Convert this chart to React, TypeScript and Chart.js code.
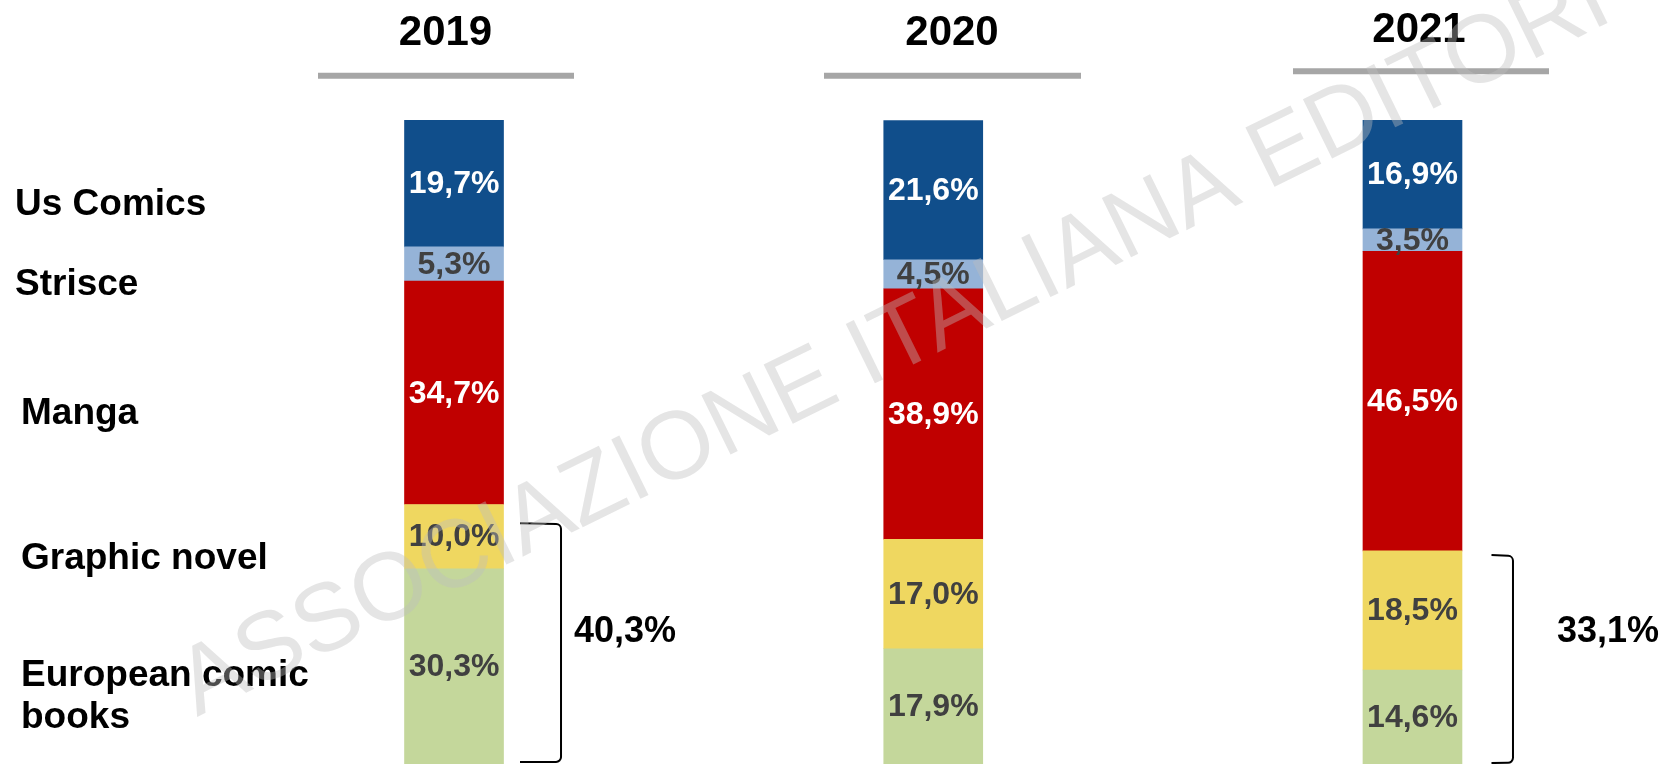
import React, { useEffect, useRef } from "react";
import { Chart, registerables } from "chart.js";

Chart.register(...registerables);

// ---- data ----
const categories = ["2019", "2020", "2021"];
const usComicsValues = [19.7, 21.6, 16.9];
const strisceValues = [5.3, 4.5, 3.5];
const mangaValues = [34.7, 38.9, 46.5];
const graphicNovelValues = [10.0, 17.0, 18.5];
const europeanValues = [30.3, 17.9, 14.6];
const seriesNames = ["European comic books", "Graphic novel", "Manga", "Strisce", "Us Comics"];
const sideLabelLines = [["Us Comics"], ["Strisce"], ["Manga"], ["Graphic novel"], ["European comic", "books"]];
const bracketCategoryIndexes = [0, 2];
const watermarkText = "ASSOCIAZIONE ITALIANA EDITORI";

const FONT = '"Liberation Sans", Arial, Helvetica, sans-serif';

const fmt = (v: number) => v.toFixed(1).replace(".", ",") + "%";

const overlayPlugin = {
  id: "overlay",
  afterDatasetsDraw(chart: any) {
    const ctx = chart.ctx as CanvasRenderingContext2D;
    const xs = chart.scales.x;
    const ys = chart.scales.y;
    ctx.save();

    // titles + underlines
    const titleX = [445.5, 952, 1419];
    const titleBase = [45, 45, 41.7];
    const ulX = [[318, 574], [824, 1081], [1293, 1549]];
    const ulY = [75.7, 75.7, 71.3];
    categories.forEach((c, i) => {
      ctx.fillStyle = "#000";
      ctx.font = `bold 42px ${FONT}`;
      ctx.textAlign = "center";
      ctx.textBaseline = "alphabetic";
      ctx.fillText(c, titleX[i], titleBase[i]);
      ctx.strokeStyle = "#a6a6a6";
      ctx.lineWidth = 6;
      ctx.beginPath();
      ctx.moveTo(ulX[i][0], ulY[i]);
      ctx.lineTo(ulX[i][1], ulY[i]);
      ctx.stroke();
    });

    // side labels
    const sideX = [15, 15, 21, 21, 21];
    const sideBase = [215, 295, 424, 569, 686];
    ctx.fillStyle = "#000";
    ctx.font = `bold 37px ${FONT}`;
    ctx.textAlign = "left";
    sideLabelLines.forEach((lines, i) => {
      lines.forEach((t, j) => ctx.fillText(t, sideX[i], sideBase[i] + j * 42));
    });

    // value labels
    ctx.font = `bold 32px ${FONT}`;
    ctx.textAlign = "center";
    ctx.textBaseline = "middle";
    chart.data.datasets.forEach((ds: any, di: number) => {
      const meta = chart.getDatasetMeta(di);
      meta.data.forEach((el: any, i: number) => {
        const v = ds.data[i];
        ctx.fillStyle = ds.labelColor;
        ctx.fillText(fmt(v), el.x, (el.y + el.base) / 2 + 1);
      });
    });

    // brackets
    const bracketSpans = [[0.3, 37.4], [0.15, 32.45]];
    const bracketOffsets = [[66, 107], [79, 100.5]];
    const labelX = [574, 1557];
    bracketCategoryIndexes.forEach((ci, k) => {
      const cx = xs.getPixelForValue(ci);
      const x0 = cx + bracketOffsets[k][0];
      const x1 = cx + bracketOffsets[k][1];
      const yTop = ys.getPixelForValue(bracketSpans[k][1]);
      const yBot = ys.getPixelForValue(bracketSpans[k][0]);
      const r = 5;
      ctx.strokeStyle = "#000";
      ctx.lineWidth = 2;
      ctx.beginPath();
      ctx.moveTo(x0, yTop);
      ctx.arcTo(x1, yTop + 1, x1, yBot, r);
      ctx.arcTo(x1, yBot, x0, yBot - 1, r);
      ctx.lineTo(x0, yBot);
      ctx.stroke();
      const total = europeanValues[ci] + graphicNovelValues[ci];
      ctx.fillStyle = "#000";
      ctx.font = `bold 36px ${FONT}`;
      ctx.textAlign = "left";
      ctx.textBaseline = "alphabetic";
      ctx.fillText(fmt(total), labelX[k], 642);
    });
    ctx.restore();
  },
  afterDraw(chart: any) {
    const ctx = chart.ctx as CanvasRenderingContext2D;
    ctx.save();
    ctx.translate(197, 717);
    ctx.rotate((-26.2 * Math.PI) / 180);
    ctx.font = `96px ${FONT}`;
    ctx.fillStyle = "rgba(190,190,190,0.4)";
    ctx.textAlign = "left";
    ctx.textBaseline = "alphabetic";
    ctx.fillText(watermarkText, 0, 0);
    ctx.restore();
  },
};

export default function App() {
  const ref = useRef<HTMLCanvasElement | null>(null);
  useEffect(() => {
    if (!ref.current) return;
    const seriesValues = [europeanValues, graphicNovelValues, mangaValues, strisceValues, usComicsValues];
    const colors = ["#C4D79B", "#EFD760", "#C00000", "#95B3D7", "#104E8B"];
    const labelColors = ["#404040", "#404040", "#ffffff", "#404040", "#ffffff"];
    const chart = new Chart(ref.current, {
      type: "bar",
      data: {
        labels: categories,
        datasets: seriesNames.map((name, i) => ({
          label: name,
          data: seriesValues[i],
          backgroundColor: colors[i],
          borderWidth: 0,
          barThickness: 99,
          labelColor: labelColors[i],
        })) as any,
      },
      options: {
        animation: false,
        responsive: false,
        devicePixelRatio: 1,
        layout: { padding: { top: 120, bottom: 0, left: 214.4, right: 13.9 } },
        plugins: { legend: { display: false }, tooltip: { enabled: false }, title: { display: false } },
        scales: {
          x: { stacked: true, display: false, offset: true },
          y: { stacked: true, display: false, min: 0, max: 100 },
        },
      },
      plugins: [overlayPlugin],
    });
    return () => chart.destroy();
  }, []);
  return (
    <div style={{ position: "absolute", left: 0, top: 0, width: 1666, height: 764, background: "#fff" }}>
      <canvas ref={ref} width={1666} height={764} style={{ display: "block" }} />
    </div>
  );
}
